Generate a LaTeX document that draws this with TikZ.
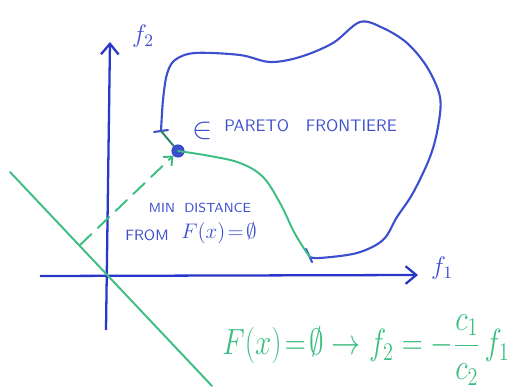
\documentclass[tikz,border=0pt]{standalone}
\usepackage{graphicx}
\usetikzlibrary{arrows.meta}
\definecolor{penblue}{RGB}{60,80,205}
\definecolor{axblue}{RGB}{40,55,200}
\definecolor{pengreen}{RGB}{60,190,130}
\definecolor{darkgreen}{RGB}{40,130,90}
\begin{document}
\begin{tikzpicture}[x=0.02cm,y=-0.02cm,
  axis/.style={axblue, line width=1.3pt, -{Straight Barb[length=6pt,width=10pt]}},
  frontier/.style={penblue, line width=1.2pt, line cap=round},
  greenline/.style={pengreen, line width=1.1pt, line cap=round},
  bluetext/.style={penblue, font=\sffamily, inner sep=0pt},
  greentext/.style={pengreen, inner sep=0pt},
]
\useasboundingbox (0,0) rectangle (512,392);
% axes
\coordinate (ybot) at (106,330);
\coordinate (ytop) at (110,42);
\coordinate (xleft) at (40,276);
\coordinate (xright) at (418,275);
\draw[axis] (ybot) -- (ytop);
\draw[axis] (xleft) -- (xright);
\node[penblue, font=\Large] (f2lab) at (143,36) {$f_2$};
\node[penblue, font=\Large] (f1lab) at (442,268) {$f_1$};
% green line F(x)=0
\coordinate (gA) at (10,172);
\coordinate (gB) at (212,386);
\draw[greenline] (gA) -- (gB);
% pareto point
\node[circle, fill=penblue, draw=axblue, inner sep=0pt, minimum size=7pt] (pt) at (178,151) {};
% dashed min distance
\coordinate (foot) at (80,245);
\draw[greenline, dash pattern=on 9pt off 5pt, -{Straight Barb[length=4pt,width=7pt]}] (foot) -- (pt.south west);
% frontier (feasible region boundary)
\coordinate (tstart) at (161,131);
\coordinate (tend) at (310,257);
\draw[frontier] plot[smooth, tension=0.55] coordinates {(161,131) (163,100) (167,74) (175,60) (195,53) (240,55) (270,62) (300,57) (333,43) (360,22) (383,28) (407,43) (427,67) (440,97) (438,127) (430,157) (413,193) (397,217) (383,240) (357,253) (320,258) (310,257)};
\draw[frontier] (154,132) -- (168,130);
\draw[frontier] (306,249) -- (312,262);
% pareto front (green)
\draw[darkgreen, line width=1.1pt] (tstart) -- (pt);
\draw[greenline] plot[smooth, tension=0.6] coordinates {(178,151) (210,156) (240,163) (263,177) (280,203) (293,230) (303,247) (310,257)};
% texts
\node[bluetext, font=\LARGE] (elem) at (203,131) {$\in$};
\node[bluetext, font=\fontsize{9.5}{11}\sffamily, anchor=west] (pf) at (224,126) {PARETO\ \ \ FRONTIERE};
\node[bluetext, font=\fontsize{7.5}{9}\sffamily] (mind) at (200,208) {MIN\ \ DISTANCE};
\node[bluetext, font=\fontsize{8.5}{10}\sffamily] (from) at (147,235) {FROM};
\node[bluetext, font=\fontsize{13}{15}\selectfont] (fx) at (219,233) {$F(x)\!=\!\emptyset$};
\node[greentext, font=\fontsize{22}{26}\selectfont, anchor=west] (eq) at (222,350) {\scalebox{0.8}[1]{$\displaystyle F(x)\!=\!\emptyset \rightarrow f_2 = -\frac{c_1}{c_2}\, f_1$}};
\end{tikzpicture}
\end{document}
